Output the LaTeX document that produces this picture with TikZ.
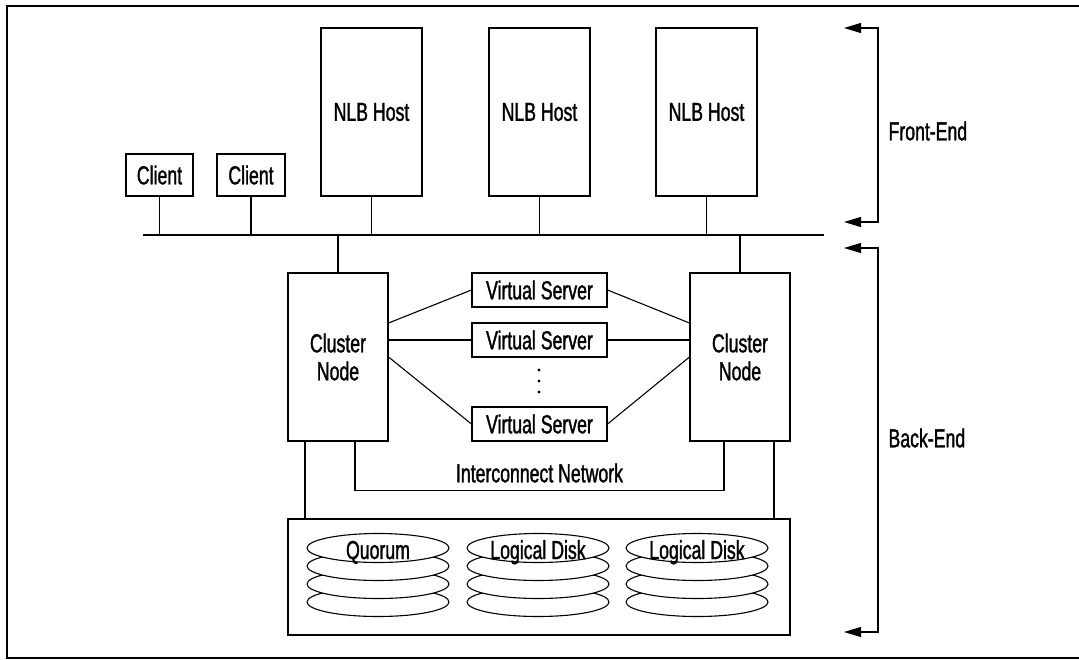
\documentclass[tikz,border=0pt]{standalone}
\usepackage{fontspec}
\setmainfont{Liberation Sans}[FakeStretch=0.68,FakeBold=1.3]
\usetikzlibrary{arrows.meta}

\begin{document}
\begin{tikzpicture}[x=1pt,y=-1pt,line width=1.1pt,
  every node/.style={font=\fontsize{26}{23}\selectfont,inner sep=0pt},
  box/.style={draw,rectangle,align=center},
  host/.style={box,minimum width=101pt,minimum height=168pt},
  vserver/.style={box,minimum width=135pt,minimum height=34pt},
  bracket/.style={{Triangle[length=17pt,width=10pt]}-{Triangle[length=17pt,width=10pt]}}]
\useasboundingbox (0,0) rectangle (1079,659);
\draw[line width=1.6pt] (1079,6) -- (7,6) -- (7,658) -- (1079,658);

% front-end
\begin{scope}[every node/.append style={box}]
\node[minimum width=67pt,minimum height=42pt] (c1) at (159.5,175) {Client};
\node[minimum width=68pt,minimum height=42pt] (c2) at (251,175) {Client};
\node[host] (h1) at (371.5,112) {NLB Host};
\node[host] (h2) at (539.5,112) {NLB Host};
\node[host] (h3) at (706.5,112) {NLB Host};
\end{scope}
\coordinate (busL) at (143,235);
\coordinate (busR) at (824,235);
\draw (busL) -- (busR);
\foreach \n in {c1,c2,h1,h2,h3}
  \draw (\n.south) -- (\n.south |- busL);

% back-end
\node[host,minimum width=100pt,font=\fontsize{26}{28}\selectfont] (clL) at (338,357) {Cluster\\Node};
\node[host,minimum width=100pt,font=\fontsize{26}{28}\selectfont] (clR) at (740,357) {Cluster\\Node};
\draw (clL.north) -- (clL.north |- busL);
\draw (clR.north) -- (clR.north |- busL);

\node[vserver] (vs1) at (539.5,290) {Virtual Server};
\node[vserver] (vs2) at (539.5,340) {Virtual Server};
\node[vserver] (vs3) at (539.5,424) {Virtual Server};
\foreach \y in {370,381,392}
  \fill (539,\y) circle (1.6pt);

\draw ([yshift=34pt]clL.east) -- (vs1.west);
\draw ([yshift=17pt]clL.east) -- (vs2.west);
\draw (clL.east) -- (vs3.west);
\draw ([yshift=34pt]clR.west) -- (vs1.east);
\draw ([yshift=17pt]clR.west) -- (vs2.east);
\draw (clR.west) -- (vs3.east);

\draw ([xshift=17pt]clL.south) -- ++(0,49) -| ([xshift=-16pt]clR.south);
\node (ic) at (539.5,473) {Interconnect Network};

% storage
\node[box,minimum width=502pt,minimum height=116pt] (store) at (539,577) {};
\draw ([xshift=-33pt]clL.south) -- ([xshift=-33pt]clL.south |- store.north);
\draw ([xshift=34pt]clR.south) -- ([xshift=34pt]clR.south |- store.north);
\foreach \x/\t [count=\i] in {378/Quorum,538/Logical Disk,697/Logical Disk}{
  \foreach \y in {602,584,566,548}
    \filldraw[fill=white] (\x,\y) ellipse [x radius=71pt,y radius=14.5pt];
  \node[anchor=base] (d\i) at (\x,559) {\t};
}

% brackets
\coordinate (fe1) at (844,28);
\coordinate (fe2) at (844,222);
\coordinate (be1) at (844,248);
\coordinate (be2) at (844,632);
\draw[bracket] (fe1) -- ++(34,0) |- (fe2);
\draw[bracket] (be1) -- ++(34,0) |- (be2);
\node[anchor=west] (fe) at (888,131) {Front-End};
\node[anchor=west] (be) at (888,438) {Back-End};
\end{tikzpicture}
\end{document}
